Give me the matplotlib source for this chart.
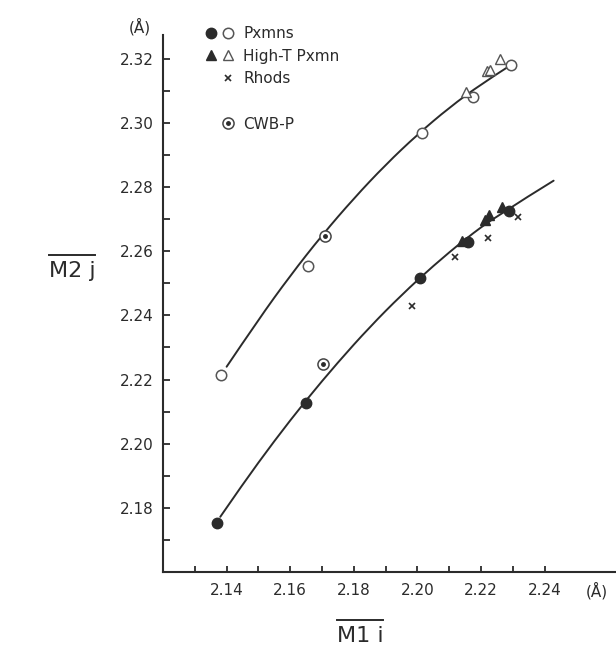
"""
M2j vs M1i mean bond lengths, pyroxenes / high-T pyroxenes / rhodonites.
"""

import matplotlib.pyplot as plt
import numpy as np
from matplotlib.legend_handler import HandlerTuple
from matplotlib.lines import Line2D
from matplotlib.path import Path
from matplotlib.patches import PathPatch

# Pxmns (filled = lower series, open = upper series)
px_fill_x = [2.1371, 2.1650, 2.2008, 2.2160, 2.2289]
px_fill_y = [2.1752, 2.2128, 2.2516, 2.2628, 2.2724]
px_open_x = [2.1381, 2.1655, 2.2014, 2.2174, 2.2293]
px_open_y = [2.2214, 2.2555, 2.2968, 2.3082, 2.3180]

# High-T Pxmn
ht_fill_x = [2.2140, 2.2213, 2.2226, 2.2265]
ht_fill_y = [2.2633, 2.2698, 2.2713, 2.2737]
ht_open_x = [2.2153, 2.2218, 2.2228, 2.2260]
ht_open_y = [2.3095, 2.3163, 2.3165, 2.3199]

# Rhods
rh_x = [2.1982, 2.2118, 2.2221, 2.2317]
rh_y = [2.2429, 2.2581, 2.2640, 2.2708]

# CWB-P
cwb_x = [2.1704, 2.1709]
cwb_y = [2.2249, 2.2646]

# hand drawn curves
upper_x = [2.140, 2.150, 2.160, 2.170, 2.180, 2.190, 2.200, 2.210, 2.220, 2.2285]
upper_y = [2.2240, 2.2387, 2.2524, 2.2650, 2.2765, 2.2870, 2.2964, 2.3048, 2.3121, 2.3175]
lower_x = [2.138, 2.145, 2.155, 2.165, 2.175, 2.185, 2.195, 2.205, 2.215, 2.225, 2.2428]
lower_y = [2.1772, 2.1873, 2.2009, 2.2136, 2.2254, 2.2364, 2.2464, 2.2555, 2.2638, 2.2711, 2.2820]

x_major = [2.14, 2.16, 2.18, 2.20, 2.22, 2.24]
x_minor = [2.13, 2.15, 2.17, 2.19, 2.21, 2.23]
y_major = [2.18, 2.20, 2.22, 2.24, 2.26, 2.28, 2.30, 2.32]
y_minor = [2.17, 2.19, 2.21, 2.23, 2.25, 2.27, 2.29, 2.31]

ink = '#2b2b2b'
plt.rcParams['font.family'] = ['DejaVu Sans']


def smooth_curve(ax, xs, ys, **kw):
    # quadratic bezier through the midpoints, so the line has no corners
    pts = list(zip(xs, ys))
    verts = [pts[0]]
    codes = [Path.MOVETO]
    for i in range(1, len(pts) - 1):
        mid = ((pts[i][0] + pts[i + 1][0]) / 2, (pts[i][1] + pts[i + 1][1]) / 2)
        if i == len(pts) - 2:
            mid = pts[-1]
        verts += [pts[i], mid]
        codes += [Path.CURVE3, Path.CURVE3]
    patch = PathPatch(Path(verts, codes), fill=False, capstyle='round', **kw)
    ax.add_patch(patch)
    return patch


fig = plt.figure(figsize=(6.16, 6.49), dpi=100)
ax = fig.add_axes([0.2646, 0.1186, 0.7338, 0.8274])

# curves
smooth_curve(ax, upper_x, upper_y, edgecolor=ink, lw=1.4, zorder=1)
smooth_curve(ax, lower_x, lower_y, edgecolor=ink, lw=1.4, zorder=1)

# points
h_pf, = ax.plot(px_fill_x, px_fill_y, 'o', ms=7.5, mfc=ink, mec=ink, zorder=3)
h_po, = ax.plot(px_open_x, px_open_y, 'o', ms=7.5, mfc='white', mec='#555555', mew=1.1, zorder=3)
h_tf, = ax.plot(ht_fill_x, ht_fill_y, '^', ms=6.5, mfc=ink, mec=ink, zorder=3)
h_to, = ax.plot(ht_open_x, ht_open_y, '^', ms=6.5, mfc='white', mec='#555555', mew=1.0, zorder=3)
h_rh, = ax.plot(rh_x, rh_y, 'x', ms=5, mec=ink, mew=1.2, zorder=3)
h_cr, = ax.plot(cwb_x, cwb_y, 'o', ms=8, mfc='white', mec='#444444', mew=1.1, zorder=3)
h_cd, = ax.plot(cwb_x, cwb_y, 'o', ms=2.5, mfc=ink, mec=ink, zorder=4)

ax.set_xlim(2.12, 2.2621)
ax.set_ylim(2.16, 2.3274)

for side in ['top', 'right']:
    ax.spines[side].set_visible(False)
for side in ['left', 'bottom']:
    ax.spines[side].set_linewidth(1.5)
    ax.spines[side].set_color(ink)

ax.set_xticks(x_major)
ax.set_xticks(x_minor, minor=True)
ax.set_yticks(y_major)
ax.set_yticks(y_minor, minor=True)
ax.set_xticklabels(['%.2f' % v for v in x_major])
ax.set_yticklabels(['%.2f' % v for v in y_major])
ax.tick_params(axis='both', which='both', direction='in', color=ink, width=1.3,
               labelsize=11, labelcolor=ink)
ax.tick_params(axis='y', which='both', length=5, pad=7)
ax.tick_params(axis='x', which='both', length=4, pad=8)

# unit marks
fig.text(597 / 616, 1 - 591 / 649, '(Å)', fontsize=11, color=ink, ha='center', va='center')
fig.text(140 / 616, 1 - 27 / 649, '(Å)', fontsize=11, color=ink, ha='center', va='center')

# axis titles with an overline
xt = fig.text(360 / 616, 1 - 636 / 649, 'M1 i', fontsize=16, color=ink, ha='center', va='center')
yt = fig.text(72 / 616, 1 - 271 / 649, 'M2 j', fontsize=16, color=ink, ha='center', va='center')
fig.canvas.draw()
r = fig.canvas.get_renderer()
for t in [xt, yt]:
    bb = t.get_window_extent(r).transformed(fig.transFigure.inverted())
    yl = bb.y1 + 6 / 649
    fig.add_artist(Line2D([bb.x0, bb.x1], [yl, yl], color=ink, lw=1.4,
                          transform=fig.transFigure))

# legend
blank = Line2D([], [], linestyle='none')
handles = [(h_pf, h_po), (h_tf, h_to), (blank, h_rh), blank, (blank, (h_cr, h_cd))]
labels = ['Pxmns', 'High-T Pxmn', 'Rhods', ' ', 'CWB-P']
inner = (h_cr, h_cd)
leg = ax.legend(handles, labels, loc='upper left', bbox_to_anchor=(205 / 616, 1 - 26 / 649),
                bbox_transform=fig.transFigure, frameon=False, fontsize=11,
                handlelength=1.9, handletextpad=0.6, labelspacing=0.5,
                borderpad=0, borderaxespad=0,
                handler_map={tuple: HandlerTuple(ndivide=None, pad=0.2),
                             inner: HandlerTuple(ndivide=1, pad=0)})
for txt in leg.get_texts():
    txt.set_color(ink)

fig.savefig('out.png', dpi=100)
